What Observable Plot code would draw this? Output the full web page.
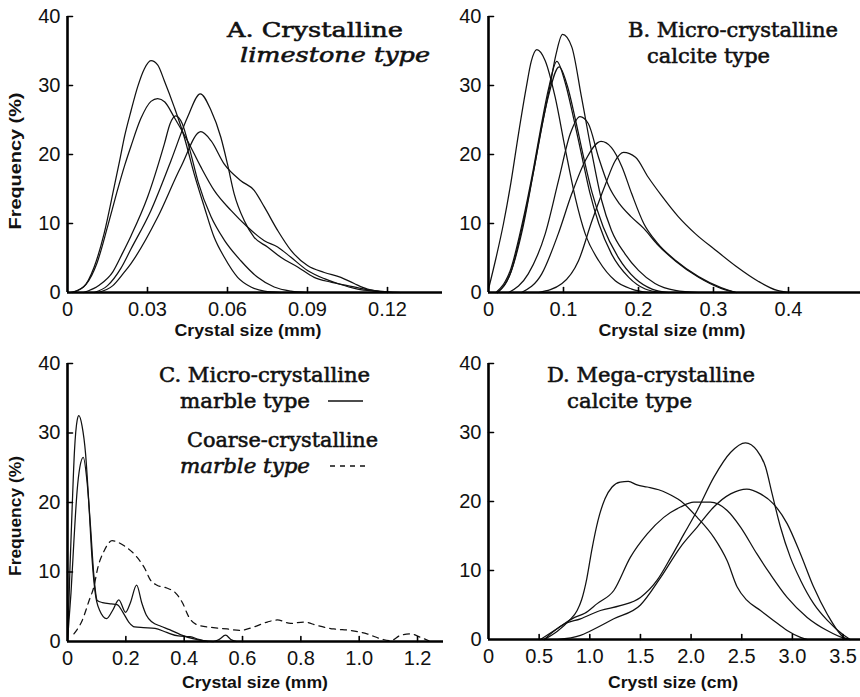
<!DOCTYPE html>
<html>
<head>
<meta charset="utf-8">
<script src="https://cdn.jsdelivr.net/npm/d3@7"></script>
<script src="https://cdn.jsdelivr.net/npm/@observablehq/plot@0.6"></script>
<style>
  html, body { margin: 0; padding: 0; background: white; }
  #wrap { position: relative; width: 860px; height: 697px; overflow: hidden; background: white; }
  .panel { position: absolute; }
  #overlay { position: absolute; left: 0; top: 0; pointer-events: none; }
  .ttl { font-family: "DejaVu Serif", serif; font-weight: normal; font-size: 20px; fill: #111; stroke: #111; stroke-width: 0.55px; }
  .it { font-style: italic; }
  .axl { font-family: "Liberation Sans", Arial, sans-serif; font-weight: bold; font-size: 17px; fill: #111; }
</style>
</head>
<body>
<div id="wrap"></div>
<script>
// ---------- Data (crystal size, frequency %) ----------
// Panel A: Crystalline limestone type (mm)
const A1 = [[0.001,0],[0.006,0.8],[0.01,3.7],[0.0137,8.5],[0.0175,15.3],[0.0195,19],[0.0215,22.8],[0.0238,26.3],[0.0263,29.8],[0.0288,32.4],[0.0313,33.6],[0.0338,33.0],[0.0363,30.7],[0.04,26.9],[0.0438,22.5],[0.0475,17.2],[0.0513,12.4],[0.055,8.0],[0.0588,5.1],[0.0638,2.2],[0.0688,0.8],[0.0738,0.2],[0.08,0]];
const A2 = [[0.002,0],[0.007,1.2],[0.011,4.2],[0.015,9.5],[0.0185,14.5],[0.0215,18.5],[0.0238,21.2],[0.0275,25.2],[0.0313,27.7],[0.0338,28.1],[0.0365,27.6],[0.04,25.4],[0.045,22],[0.05,18.2],[0.055,14.8],[0.0613,11.9],[0.0675,9.5],[0.0738,7.5],[0.0788,6.6],[0.0838,5.1],[0.09,3.2],[0.0963,2.0],[0.1013,1.3],[0.1088,0.5],[0.115,0.2],[0.122,0]];
const A3 = [[0.006,0],[0.012,1.1],[0.017,3.0],[0.0205,5.6],[0.0238,8.2],[0.03,13.8],[0.0363,21.5],[0.0385,24.5],[0.0406,25.6],[0.043,24.5],[0.046,20.5],[0.049,16],[0.0538,11],[0.0588,7.6],[0.065,4.6],[0.0713,2.2],[0.0775,0.8],[0.0838,0.2],[0.09,0]];
const A4 = [[0.01,0],[0.015,1.0],[0.02,3.5],[0.0238,6.3],[0.0313,11.9],[0.0388,19.1],[0.045,25.4],[0.0498,28.8],[0.0538,26.4],[0.0575,22.5],[0.06,18.6],[0.0625,14.3],[0.0663,10.4],[0.07,8.0],[0.075,6.6],[0.08,5.1],[0.0863,3.7],[0.0925,2.2],[0.0988,1.5],[0.105,1.0],[0.1113,0.5],[0.12,0]];
const A5 = [[0.0115,0],[0.017,1.0],[0.021,2.8],[0.0238,4.2],[0.0338,10.9],[0.0425,18.2],[0.05,23.3],[0.0538,22],[0.0588,18.6],[0.065,16.2],[0.07,14.8],[0.0738,12.4],[0.0788,9.0],[0.0838,6.1],[0.09,3.9],[0.0963,2.9],[0.1025,2.2],[0.1075,1.3],[0.1125,0.5],[0.12,0.1],[0.125,0]];

// Panel B: Micro-crystalline calcite type (mm)
const B1 = [[0,0.5],[0.01,5],[0.02,10],[0.03,16],[0.04,23],[0.05,29.5],[0.057,33.5],[0.0644,35.2],[0.0756,33.6],[0.0889,28.3],[0.102,21],[0.1156,13.8],[0.129,8.5],[0.147,4.6],[0.169,1.7],[0.191,0.5],[0.213,0]];
const B2 = [[0.012,0],[0.03,3],[0.045,9],[0.06,17.5],[0.072,24.5],[0.082,30],[0.09,34.5],[0.0987,37.4],[0.111,35.6],[0.124,28.3],[0.138,20.1],[0.151,13.3],[0.164,9.0],[0.182,5.6],[0.2,3.2],[0.222,1.3],[0.249,0.3],[0.28,0]];
const B3 = [[0.01,0],[0.03,3.5],[0.045,10],[0.06,18],[0.07,24],[0.08,29.5],[0.0911,33.5],[0.102,30.5],[0.113,25.5],[0.124,20],[0.135,14.5],[0.147,10],[0.164,5.6],[0.187,2.2],[0.209,0.5],[0.23,0]];
const B4 = [[0.012,0],[0.03,3],[0.045,9.5],[0.06,17.5],[0.07,23.5],[0.08,28.5],[0.0942,32.7],[0.105,30],[0.116,25],[0.127,19.5],[0.138,14.5],[0.153,9.5],[0.173,5.1],[0.196,2.0],[0.218,0.5],[0.24,0]];
const B5 = [[0.027,0],[0.053,2.7],[0.0756,8.5],[0.0933,16.2],[0.109,23],[0.122,25.5],[0.133,24.5],[0.147,19.5],[0.16,15.5],[0.175,12.8],[0.19,11],[0.207,9.3],[0.225,7],[0.25,4.5],[0.28,2.2],[0.31,0.6],[0.33,0]];
const B6 = [[0.044,0],[0.071,2.7],[0.093,8.5],[0.111,14.3],[0.129,19.1],[0.15,21.9],[0.164,21],[0.178,18.2],[0.191,14.3],[0.207,10],[0.225,7.2],[0.25,4.6],[0.28,2.3],[0.31,0.7],[0.33,0]];
const B7 = [[0.067,0],[0.098,1.3],[0.12,4.6],[0.138,10.4],[0.156,15.7],[0.169,19.1],[0.18,20.3],[0.196,19.6],[0.213,16.7],[0.231,14],[0.253,11],[0.276,8.5],[0.302,6.2],[0.33,3.8],[0.36,1.6],[0.385,0.3],[0.4,0]];

// Panel C: Micro-crystalline marble (solid) and coarse-crystalline marble (dashed) (mm)
const C1 = [[0,0],[0.003,3],[0.008,10],[0.016,19.3],[0.024,27.5],[0.033,31.8],[0.039,32.5],[0.05,31],[0.062,27],[0.073,20],[0.084,12],[0.095,7],[0.11,4.5],[0.134,3.3],[0.155,4.5],[0.176,6.0],[0.199,4.2],[0.215,5.5],[0.237,8.1],[0.255,5.5],[0.27,3.8],[0.29,2.8],[0.32,2.2],[0.35,1.7],[0.387,1.0],[0.43,0.4],[0.47,0.1],[0.5,0],[0.52,0.3],[0.542,0.9],[0.56,0.3],[0.58,0]];
const C2 = [[0,0],[0.005,3],[0.012,7],[0.022,14.5],[0.033,21.7],[0.042,25],[0.054,26.5],[0.067,23],[0.079,16.5],[0.09,9.7],[0.102,5.9],[0.12,5.6],[0.15,5.4],[0.17,5.3],[0.19,4.2],[0.21,2.8],[0.23,2.1],[0.26,2.0],[0.3,1.9],[0.34,1.3],[0.38,0.8],[0.42,0.7],[0.45,0.3],[0.48,0]];
const C3 = [[0.022,1.1],[0.05,3],[0.075,6],[0.09,7.8],[0.105,10.8],[0.125,13],[0.153,14.5],[0.193,13.8],[0.239,12.1],[0.265,10.5],[0.285,8.8],[0.307,8.1],[0.34,7.7],[0.37,7.0],[0.395,5.5],[0.415,3.6],[0.445,2.4],[0.5,2.0],[0.547,1.8],[0.593,1.6],[0.639,2.1],[0.685,2.8],[0.719,3.1],[0.765,2.6],[0.81,2.8],[0.856,2.3],[0.913,1.8],[0.97,1.6],[1.027,1.1],[1.073,0.4],[1.107,0.1],[1.142,0.9],[1.176,1.1],[1.21,0.6],[1.239,0.1]];

// Panel D: Mega-crystalline calcite type (cm)
const D1 = [[0.55,0],[0.68,1.2],[0.8,2.8],[0.875,4.2],[0.92,5.8],[0.97,8.8],[1.02,13],[1.08,17.2],[1.15,20.4],[1.22,22.1],[1.3,22.8],[1.38,22.9],[1.467,22.4],[1.567,22.1],[1.68,21.7],[1.764,21.2],[1.895,20.1],[2.06,17.7],[2.224,14.8],[2.356,11.4],[2.455,7.6],[2.55,5.7],[2.685,4.2],[2.81,2.8],[2.948,1.3],[3.08,0.3],[3.15,0]];
const D2 = [[0.513,0],[0.68,1.6],[0.85,3.2],[0.95,3.8],[1.073,5.2],[1.237,7.1],[1.4,11.9],[1.567,15.3],[1.73,17.7],[1.895,19.2],[2.026,19.9],[2.19,19.9],[2.356,18.7],[2.488,16.3],[2.65,12.4],[2.78,9.5],[2.948,6.1],[3.146,3.2],[3.343,1.3],[3.508,0.2],[3.56,0]];
const D3 = [[0.55,0],[0.743,2.2],[0.908,3.0],[1.105,4.2],[1.3,4.9],[1.5,6.1],[1.665,8.6],[1.8,11.9],[1.93,15.3],[2.06,18.7],[2.224,23.5],[2.389,27.1],[2.537,28.5],[2.65,27.4],[2.735,25],[2.8,21.1],[2.882,16.3],[2.98,11.9],[3.08,8.6],[3.21,5.2],[3.343,2.8],[3.508,0.6],[3.57,0]];
const D4 = [[0.68,0],[0.908,0.6],[1.0,1.2],[1.237,3.0],[1.5,5.0],[1.7,9],[1.895,13.4],[2.06,16.3],[2.224,19.2],[2.39,21.1],[2.55,21.8],[2.685,21.1],[2.81,19.7],[2.948,16.8],[3.08,12.4],[3.21,7.6],[3.343,3.7],[3.508,0.3],[3.56,0]];

// Tick values and labels
const yTicks = [0, 10, 20, 30, 40];
const xTicksA = [0, 0.03, 0.06, 0.09, 0.12];
const xTicksB = [0, 0.1, 0.2, 0.3, 0.4];
const xTicksC = [0, 0.2, 0.4, 0.6, 0.8, 1.0, 1.2];
const xTicksD = [0, 0.5, 1.0, 1.5, 2.0, 2.5, 3.0, 3.5];
const fmtA = d => d === 0 ? "0" : d.toFixed(2);
const fmt1 = d => d === 0 ? "0" : d.toFixed(1);

// ---------- Drawing ----------
const rowsOf = (series) => series.flatMap((s, i) => s.map(([x, y]) => ({id: i, x, y})));
const tickShape = {draw(context, l) { context.moveTo(0, 0); context.lineTo(0, -l); }};

function panel({solid, dashed = [], xDomain, xTicks, fmt, width, height, ml, mt, mb}) {
  const marks = [
    Plot.line(rowsOf(solid), {x: "x", y: "y", z: "id", stroke: "#111", strokeWidth: 1.25, curve: "monotone-x"}),
  ];
  if (dashed.length) marks.push(Plot.line(rowsOf(dashed), {x: "x", y: "y", z: "id", stroke: "#111", strokeWidth: 1.25, strokeDasharray: "6,5", curve: "monotone-x"}));
  marks.push(
    Plot.ruleY([0], {stroke: "#000", strokeWidth: 2.6}),
    Plot.ruleX([0], {y1: 0, y2: 40, stroke: "#000", strokeWidth: 2.6}),
    Plot.vector(xTicks.filter(d => d > 0), {x: d => d, y: 0, length: 5, anchor: "start", shape: tickShape, stroke: "#000", strokeWidth: 1.6}),
    Plot.vector(yTicks.filter(d => d > 0), {x: 0, y: d => d, length: 5, rotate: 90, anchor: "start", shape: tickShape, stroke: "#000", strokeWidth: 1.6}),
    Plot.axisX(xTicks, {tickSize: 0, tickPadding: 9, tickFormat: fmt, fontSize: 20, label: null, fill: "#111"}),
    Plot.axisY(yTicks, {tickSize: 0, tickPadding: 7, fontSize: 20, label: null, fill: "#111"})
  );
  return Plot.plot({
    width, height,
    marginLeft: ml, marginRight: 0, marginTop: mt, marginBottom: mb,
    x: {domain: xDomain},
    y: {domain: [0, 40]},
    style: {background: "transparent", overflow: "visible", fontFamily: "'Liberation Sans', Arial, sans-serif", color: "#111"},
    marks
  });
}

const wrap = document.getElementById("wrap");
function place(node, left, top) {
  const d = document.createElement("div");
  d.className = "panel";
  d.style.left = left + "px";
  d.style.top = top + "px";
  d.appendChild(node);
  wrap.appendChild(d);
}

place(panel({solid: [A1, A2, A3, A4, A5], xDomain: [0, 0.03 * (442 - 67) / 80], xTicks: xTicksA, fmt: fmtA, width: 442, height: 330, ml: 67, mt: 16, mb: 38}), 0, 0);
place(panel({solid: [B1, B2, B3, B4, B5, B6, B7], xDomain: [0, (430 - 58) / 750], xTicks: xTicksB, fmt: fmt1, width: 430, height: 330, ml: 58, mt: 16, mb: 38}), 430, 0);
place(panel({solid: [C1, C2], dashed: [C3], xDomain: [0, (443 - 67) / 291.7], xTicks: xTicksC, fmt: fmt1, width: 443, height: 367, ml: 67, mt: 33, mb: 56}), 0, 330);
place(panel({solid: [D1, D2, D3, D4], xDomain: [0, (430 - 58) / 101.3], xTicks: xTicksD, fmt: fmt1, width: 430, height: 367, ml: 58, mt: 33, mb: 58}), 430, 330);

// ---------- Titles, axis labels, legend ----------
const NS = "http://www.w3.org/2000/svg";
const ov = document.createElementNS(NS, "svg");
ov.setAttribute("id", "overlay");
ov.setAttribute("width", 860);
ov.setAttribute("height", 697);
wrap.appendChild(ov);
function txt(s, x, y, cls, opts = {}) {
  const t = document.createElementNS(NS, "text");
  t.textContent = s;
  t.setAttribute("x", x); t.setAttribute("y", y);
  t.setAttribute("class", cls);
  if (opts.anchor) t.setAttribute("text-anchor", opts.anchor);
  if (opts.len) { t.setAttribute("textLength", opts.len); t.setAttribute("lengthAdjust", "spacingAndGlyphs"); }
  if (opts.transform) t.setAttribute("transform", opts.transform);
  ov.appendChild(t);
}
function seg(x1, x2, y, dash) {
  const l = document.createElementNS(NS, "line");
  l.setAttribute("x1", x1); l.setAttribute("x2", x2);
  l.setAttribute("y1", y); l.setAttribute("y2", y);
  l.setAttribute("stroke", "#111"); l.setAttribute("stroke-width", 1.3);
  if (dash) l.setAttribute("stroke-dasharray", dash);
  ov.appendChild(l);
}

txt("A. Crystalline", 227, 37, "ttl", {len: 176});
txt("limestone type", 240, 62, "ttl it", {len: 190});
txt("B. Micro-crystalline", 628, 37, "ttl", {len: 210});
txt("calcite type", 647, 63, "ttl", {len: 123});
txt("C. Micro-crystalline", 159, 382, "ttl", {len: 211});
txt("marble type", 180, 408, "ttl", {len: 130});
seg(328, 363, 401);
txt("Coarse-crystalline", 187, 447, "ttl", {len: 191});
txt("marble type", 180, 473, "ttl it", {len: 130});
seg(330, 366, 466, "5,5");
txt("D. Mega-crystalline", 547, 382, "ttl", {len: 208});
txt("calcite type", 567, 408, "ttl", {len: 125});

txt("Crystal size (mm)", 248, 336, "axl", {anchor: "middle", len: 147});
txt("Crystal size (mm)", 672, 336, "axl", {anchor: "middle", len: 147});
txt("Crystal size (mm)", 255, 688, "axl", {anchor: "middle", len: 146});
txt("Crystl size (cm)", 673, 688, "axl", {anchor: "middle", len: 130});
txt("Frequency (%)", 0, 0, "axl", {anchor: "middle", len: 137, transform: "translate(21,161) rotate(-90)"});
txt("Frequency (%)", 0, 0, "axl", {anchor: "middle", len: 120, transform: "translate(21,516) rotate(-90)"});
</script>
</body>
</html>
